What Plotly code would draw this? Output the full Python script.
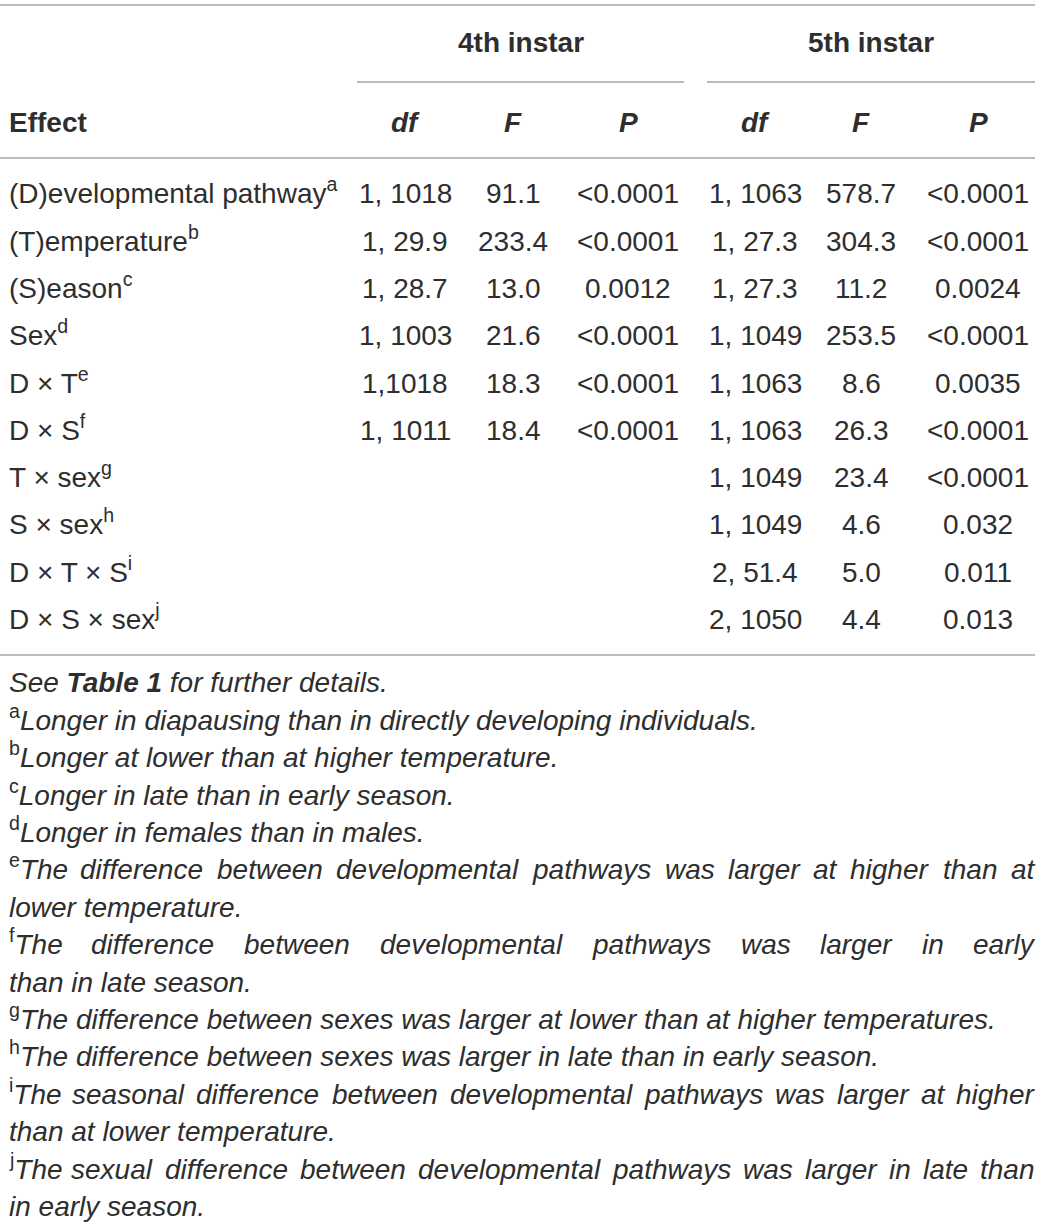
"""
ANOVA table for development time in 4th and 5th instar, drawn as a Plotly figure.
"""

import plotly.graph_objects as go

# Dados
effects      = ["(D)evelopmental pathway", "(T)emperature", "(S)eason", "Sex",
                "D × T", "D × S", "T × sex", "S × sex", "D × T × S", "D × S × sex"]
effect_marks = ["a", "b", "c", "d", "e", "f", "g", "h", "i", "j"]

df_4th = ["1, 1018", "1, 29.9", "1, 28.7", "1, 1003", "1,1018", "1, 1011", "", "", "", ""]
F_4th  = ["91.1", "233.4", "13.0", "21.6", "18.3", "18.4", "", "", "", ""]
P_4th  = ["<0.0001", "<0.0001", "0.0012", "<0.0001", "<0.0001", "<0.0001", "", "", "", ""]

df_5th = ["1, 1063", "1, 27.3", "1, 27.3", "1, 1049", "1, 1063", "1, 1063",
          "1, 1049", "1, 1049", "2, 51.4", "2, 1050"]
F_5th  = ["578.7", "304.3", "11.2", "253.5", "8.6", "26.3", "23.4", "4.6", "5.0", "4.4"]
P_5th  = ["<0.0001", "<0.0001", "0.0024", "<0.0001", "0.0035", "<0.0001",
          "<0.0001", "0.032", "0.011", "0.013"]

groups      = ["4th instar", "5th instar"]
col_headers = ["df", "F", "P"]

# notas de rodapé: (marca, linhas, justificar primeira linha)
footnotes = [
    ("a", ["Longer in diapausing than in directly developing individuals."], False),
    ("b", ["Longer at lower than at higher temperature."], False),
    ("c", ["Longer in late than in early season."], False),
    ("d", ["Longer in females than in males."], False),
    ("e", ["The difference between developmental pathways was larger at higher than at",
           "lower temperature."], True),
    ("f", ["The difference between developmental pathways was larger in early",
           "than in late season."], True),
    ("g", ["The difference between sexes was larger at lower than at higher temperatures."], False),
    ("h", ["The difference between sexes was larger in late than in early season."], False),
    ("i", ["The seasonal difference between developmental pathways was larger at higher",
           "than at lower temperature."], True),
    ("j", ["The sexual difference between developmental pathways was larger in late than",
           "in early season."], True),
]

# Layout
W, H = 1041, 1227
FS = 28
TXT = "#2e2e2e"
LINE = "#7a7a7a"
FONT = "Liberation Sans"
BASE_OFF = 0.62 * FS   # do centro da linha até a base da caixa de texto

LEFT, RIGHT = 7, 1035
col_x = [405, 513, 628, 755, 861, 978]
group_x = [(357, 684), (707, 1035)]
row_y0, row_dy = 194, 47.3
note_y0, note_dy = 683, 37.4

# larguras Arial (unidades /1000) para justificar o texto
CHAR_W = {'a': 556, 'b': 556, 'c': 500, 'd': 556, 'e': 556, 'f': 278, 'g': 556,
          'h': 556, 'i': 222, 'j': 222, 'k': 500, 'l': 222, 'm': 833, 'n': 556,
          'o': 556, 'p': 556, 'q': 556, 'r': 333, 's': 500, 't': 278, 'u': 556,
          'v': 500, 'w': 722, 'x': 500, 'y': 500, 'z': 500, 'T': 611, '.': 278,
          ',': 278, ' ': 278}


def text_width(s, size):
    return sum(CHAR_W.get(ch, 556) for ch in s) * size / 1000.


def esc(s):
    return s.replace("<", "&lt;")


fig = go.Figure()
fig.add_trace(go.Scatter(x=[0, W], y=[0, H], mode="markers",
                         marker=dict(opacity=0), hoverinfo="skip", showlegend=False))


def add_text(x, y, text, anchor="center", size=FS):
    # ancorado pela base para que o <sup> não desloque a linha
    fig.add_annotation(x=x, y=y + BASE_OFF, xref="x", yref="y", text=text,
                       showarrow=False, xanchor=anchor, yanchor="bottom",
                       font=dict(family=FONT, size=size, color=TXT))


# linhas horizontais
for y in [5, 158, 655]:
    fig.add_shape(type="line", x0=0, x1=RIGHT, y0=y, y1=y, xref="x", yref="y",
                  line=dict(color=LINE, width=1.2))
for x0, x1 in group_x:
    fig.add_shape(type="line", x0=x0, x1=x1, y0=82, y1=82, xref="x", yref="y",
                  line=dict(color=LINE, width=1.2))

# cabeçalho
for (x0, x1), g in zip(group_x, groups):
    add_text((x0 + x1) / 2, 43, f"<b>{g}</b>")
add_text(LEFT, 123, "<b>Effect</b>", anchor="left")
for i, x in enumerate(col_x):
    add_text(x, 123, f"<b><i>{col_headers[i % 3]}</i></b>")

# corpo da tabela
columns = [df_4th, F_4th, P_4th, df_5th, F_5th, P_5th]
for r, (eff, mark) in enumerate(zip(effects, effect_marks)):
    y = row_y0 + r * row_dy
    add_text(LEFT, y, f"{eff}<sup>{mark}</sup>", anchor="left")
    for x, col in zip(col_x, columns):
        if col[r]:
            add_text(x, y, esc(col[r]))

# rodapé
line_idx = 0
add_text(LEFT, note_y0, "<i>See </i><b><i>Table 1</i></b><i> for further details.</i>",
         anchor="left")
line_idx += 1
for mark, lines, justify in footnotes:
    for k, txt in enumerate(lines):
        y = note_y0 + line_idx * note_dy
        prefix = f"<sup>{mark}</sup>" if k == 0 else ""
        if k == 0 and justify:
            words = txt.split(" ")
            widths = [text_width(w, FS) for w in words]
            widths[0] += text_width(mark, FS * 0.7)
            gap = (RIGHT - LEFT - sum(widths)) / (len(words) - 1)
            x = LEFT
            for n, w in enumerate(words):
                label = (prefix if n == 0 else "") + f"<i>{w}</i>"
                if n == 0:
                    add_text(LEFT, y, label, anchor="left")
                else:
                    add_text(x + widths[n] / 2, y, label, anchor="center")
                x += widths[n] + gap
        else:
            add_text(LEFT, y, f"{prefix}<i>{txt}</i>", anchor="left")
        line_idx += 1

fig.update_layout(
    width=W, height=H,
    margin=dict(l=0, r=0, t=0, b=0),
    paper_bgcolor="white", plot_bgcolor="white",
    xaxis=dict(range=[0, W], visible=False, fixedrange=True),
    yaxis=dict(range=[H, 0], visible=False, fixedrange=True),
    font=dict(family=FONT, color=TXT),
    showlegend=False,
)

# tira a margem padrão do <body> para a figura ocupar a janela inteira
fig.write_html("out.html", config={"staticPlot": True},
               post_script="document.body.style.margin='0';document.body.style.overflow='hidden';")
